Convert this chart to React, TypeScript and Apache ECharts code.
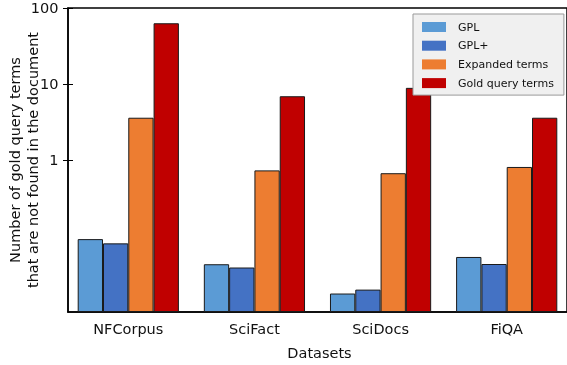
import React, { useEffect, useRef } from 'react';
import * as echarts from 'echarts';

const categories = ['NFCorpus', 'SciFact', 'SciDocs', 'FiQA'];
const seriesNames = ['GPL', 'GPL+', 'Expanded terms', 'Gold query terms'];
const gplValues = [0.091, 0.0425, 0.0175, 0.053];
const gplPlusValues = [0.08, 0.0385, 0.0197, 0.0428];
const expandedValues = [3.6, 0.73, 0.67, 0.81];
const goldValues = [63, 6.9, 8.9, 3.6];
const yTickValues = [1, 10, 100];
const seriesColors = ['#5b9bd5', '#4472c4', '#ed7d31', '#c00000'];

const FONT = 'DejaVu Sans';

export default function App() {
  const ref = useRef<HTMLDivElement>(null);
  useEffect(() => {
    if (!ref.current) return;
    const chart = echarts.init(ref.current, undefined, { renderer: 'svg' });
    const allValues = [gplValues, gplPlusValues, expandedValues, goldValues];
    const series = seriesNames.map((name, i) => ({
      name,
      type: 'bar',
      xAxisIndex: 0,
      yAxisIndex: 0,
      barWidth: 25.3,
      barGap: '0%',
      data: allValues[i].map((v, j) => [j, v]),
      itemStyle: { color: seriesColors[i], borderColor: '#1a1a1a', borderWidth: 1 },
    }));
    chart.setOption({
      animation: false,
      textStyle: { fontFamily: FONT },
      grid: {
        left: 68,
        top: 8,
        width: 503,
        height: 304,
        show: true,
        borderColor: '#000',
        borderWidth: 1.5,
        backgroundColor: 'transparent',
      },
      legend: {
        orient: 'vertical',
        left: 413,
        top: 14,
        data: seriesNames,
        padding: [7, 10, 6, 9],
        backgroundColor: '#f0f0f0',
        borderColor: '#999',
        borderWidth: 1,
        borderRadius: 0,
        itemWidth: 24,
        itemHeight: 10,
        itemGap: 6.7,
        icon: 'rect',
        itemStyle: { borderWidth: 0 },
        textStyle: { fontFamily: FONT, fontSize: 11, lineHeight: 12, color: '#111', padding: [0, 0, 0, 7] },
      },
      xAxis: {
        type: 'value',
        min: -0.478,
        max: 3.478,
        axisLine: { show: true, onZero: false, lineStyle: { color: '#000', width: 1.5 } },
        axisTick: { show: false },
        splitLine: { show: false },
        axisLabel: {
          customValues: [0, 1, 2, 3],
          formatter: (v: number) => categories[Math.round(v)] ?? '',
          fontFamily: FONT,
          fontSize: 14.5,
          color: '#111',
          margin: 9,
        },
      },
      yAxis: [
        {
          type: 'log',
          logBase: 10,
          min: 0.01,
          max: 100,
          startValue: 0.01,
          position: 'left',
          axisLine: { show: true, onZero: false, lineStyle: { color: '#000', width: 1.5 } },
          axisTick: { show: true, length: 5, customValues: yTickValues, lineStyle: { color: '#000', width: 1 } },
          splitLine: { show: false },
          minorTick: { show: false },
          axisLabel: {
            customValues: yTickValues,
            formatter: (v: number) => String(Math.round(v)),
            fontFamily: FONT,
            fontSize: 14.5,
            color: '#111',
            margin: 9.5,
          },
        },
        {
          type: 'log',
          logBase: 10,
          min: 0.01,
          max: 100,
          position: 'left',
          offset: 0,
          axisLine: { show: false, onZero: false },
          axisTick: { show: true, inside: true, length: 5, customValues: yTickValues, lineStyle: { color: '#000', width: 1 } },
          splitLine: { show: false },
          axisLabel: { show: false },
        },
      ],
      graphic: [
        {
          type: 'text',
          x: 15,
          y: 160,
          rotation: Math.PI / 2,
          style: {
            text: 'Number of gold query terms',
            fontFamily: FONT,
            fontSize: 14.5,
            fill: '#111',
            textAlign: 'center',
            textVerticalAlign: 'middle',
          },
        },
        {
          type: 'text',
          x: 33,
          y: 160,
          rotation: Math.PI / 2,
          style: {
            text: 'that are not found in the document',
            fontFamily: FONT,
            fontSize: 14.5,
            fill: '#111',
            textAlign: 'center',
            textVerticalAlign: 'middle',
          },
        },
        {
          type: 'text',
          x: 319.5,
          y: 353,
          style: {
            text: 'Datasets',
            fontFamily: FONT,
            fontSize: 14.5,
            fill: '#111',
            textAlign: 'center',
            textVerticalAlign: 'middle',
          },
        },
      ],
      series,
    });
    return () => chart.dispose();
  }, []);
  return <div ref={ref} style={{ position: 'fixed', left: 0, top: 0, width: 567, height: 365 }} />;
}
